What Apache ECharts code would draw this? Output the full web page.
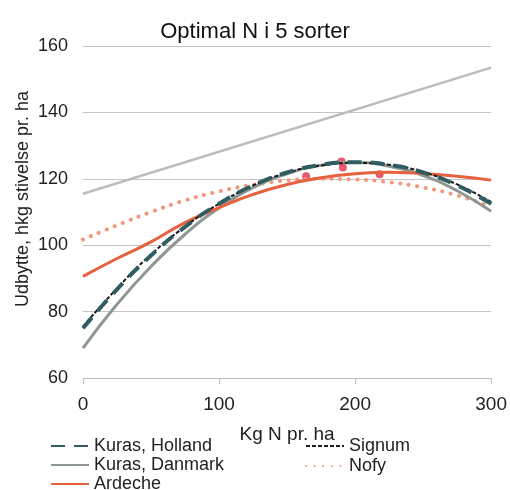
<!DOCTYPE html>
<html><head><meta charset="utf-8">
<script src="https://cdn.jsdelivr.net/npm/echarts@6/dist/echarts.min.js"></script>
<style>html,body{margin:0;padding:0;background:#fff}#c{width:510px;height:490px}</style>
</head><body><div id="c"></div>
<script>
const xs = [0, 25, 50, 75, 100, 125, 150, 175, 200, 225, 250, 275, 300];
const kurasHolland  = [75, 86.7, 96.9, 105.5, 112.5, 118, 121.9, 124.2, 125, 124.2, 121.9, 118, 112.5];
const kurasDanmark  = [69, 82.2, 93.6, 103.3, 111.2, 117.3, 121.5, 124.1, 124.9, 123.8, 121, 116.4, 110.2];
const ardeche       = [90.6, 96, 101, 106.8, 111.3, 115.3, 118.3, 120.3, 121.5, 122, 121.6, 120.8, 119.6];
const signum        = [75.5, 87, 97.2, 105.6, 112.5, 118, 121.8, 124, 124.8, 124.2, 122, 118.3, 113];
const nofy          = [101.7, 106, 110, 113.5, 116.2, 118.2, 119.5, 120, 119.8, 119, 117.4, 115, 111.5];
const refLineX      = [0, 300];
const refLineY      = [115.5, 153.5];
const optimaX       = [164, 190, 191, 218];
const optimaY       = [120.8, 125.2, 123.4, 121.4];
const xTicks = [0, 100, 200, 300];
const yTicks = [60, 80, 100, 120, 140, 160];

const pairs = (a, b) => a.map((x, i) => [x, b[i]]);
const FONT = 'Liberation Sans, Arial, sans-serif';
const chart = echarts.init(document.getElementById('c'), null, {renderer: 'canvas'});

function leg(name, left, top) {
  return {
    data: [name], left: left, top: top, orient: 'horizontal',
    itemWidth: 38, itemHeight: 8, itemGap: 8, padding: 0,
    itemStyle: {opacity: 0},
    textStyle: {fontFamily: FONT, fontSize: 18, color: '#222'},
    selectedMode: false
  };
}

chart.setOption({
  animation: false,
  title: {
    text: 'Optimal N i 5 sorter', left: 'center', top: 16,
    textStyle: {fontFamily: FONT, fontSize: 22, fontWeight: 'normal', color: '#111'}
  },
  legend: [
    leg('Kuras, Holland', 50, 437),
    leg('Kuras, Danmark', 50, 456),
    leg('Ardeche', 50, 475),
    leg('Signum', 305, 437),
    leg('Nofy', 305, 457)
  ],
  grid: {left: 83, right: 17, top: 46, bottom: 112},
  xAxis: {
    type: 'value', min: xTicks[0], max: xTicks[xTicks.length - 1], interval: 100,
    name: 'Kg N pr. ha', nameLocation: 'middle', nameGap: 47,
    nameTextStyle: {fontFamily: FONT, fontSize: 19, color: '#222'},
    axisLine: {show: true, lineStyle: {color: '#bdbdbd', width: 1}},
    axisTick: {show: true, length: 6, lineStyle: {color: '#bdbdbd'}},
    splitLine: {show: false},
    axisLabel: {fontFamily: FONT, fontSize: 19, color: '#222', margin: 17}
  },
  yAxis: {
    type: 'value', min: yTicks[0], max: yTicks[yTicks.length - 1], interval: 20,
    name: 'Udbytte, hkg stivelse pr. ha', nameLocation: 'middle', nameGap: 51,
    nameMoveOverlap: false,
    nameTextStyle: {fontFamily: FONT, fontSize: 18, color: '#222', padding: [0, 0, 0, 26]},
    axisLine: {show: false}, axisTick: {show: false},
    splitLine: {show: true, lineStyle: {color: '#c4c4c4', width: 1}},
    axisLabel: {fontFamily: FONT, fontSize: 18, color: '#222', margin: 15}
  },
  series: [
    {type: 'line', name: 'ref', data: pairs(refLineX, refLineY), symbol: 'none',
     lineStyle: {color: '#bcbcbc', width: 2.5}, itemStyle: {color: '#bcbcbc'}},
    {type: 'line', name: 'Nofy', data: pairs(xs, nofy), smooth: true, symbol: 'none',
     lineStyle: {color: '#f3987c', width: 4, type: [0.1, 8.5], cap: 'round'}, itemStyle: {color: '#f3987c'}},
    {type: 'line', name: 'Kuras, Danmark', data: pairs(xs, kurasDanmark), smooth: true, symbol: 'none',
     lineStyle: {color: '#8e9893', width: 3}, itemStyle: {color: '#8e9893'}},
    {type: 'line', name: 'Ardeche', data: pairs(xs, ardeche), smooth: true, symbol: 'none',
     lineStyle: {color: '#e8613e', width: 3}, itemStyle: {color: '#e8613e'}},
    {type: 'line', name: 'Signum', data: pairs(xs, signum), smooth: true, symbol: 'none',
     lineStyle: {color: '#1a1a1a', width: 2, type: [4, 2]}, itemStyle: {color: '#1a1a1a'}},
    {type: 'line', name: 'Kuras, Holland', data: pairs(xs, kurasHolland), smooth: true, symbol: 'none',
     lineStyle: {color: '#2f5d62', width: 4, type: [14, 9]}, itemStyle: {color: '#2f5d62'}},
    {type: 'scatter', name: 'optima', data: pairs(optimaX, optimaY), symbolSize: 8,
     itemStyle: {color: '#e0304a'}}
  ]
});
</script></body></html>
